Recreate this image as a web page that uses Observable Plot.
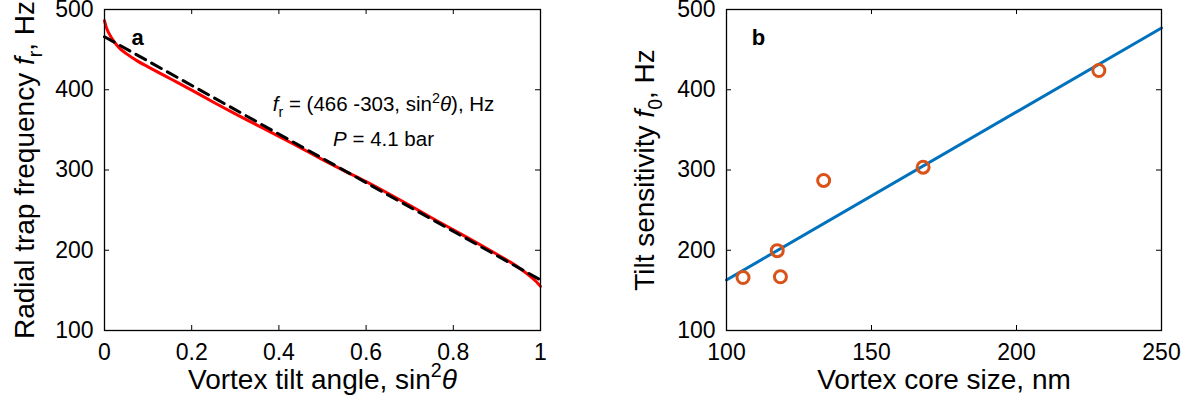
<!DOCTYPE html>
<html><head><meta charset="utf-8">
<script src="https://cdn.jsdelivr.net/npm/d3@7"></script>
<script src="https://cdn.jsdelivr.net/npm/@observablehq/plot@0.6"></script>
<style>
html,body{margin:0;padding:0;background:#fff;}
#wrap{display:flex;width:1191px;height:412px;overflow:hidden;}
#wrap svg{display:block;flex:none;}
</style></head><body><div id="wrap"></div>
<script>
// ---- Panel a data ----
const redX = [0, 0.005, 0.01, 0.02, 0.035, 0.05, 0.075, 0.1, 0.15, 0.2, 0.25, 0.3, 0.35, 0.4, 0.45, 0.5, 0.55, 0.6, 0.65, 0.7, 0.75, 0.8, 0.85, 0.9, 0.93, 0.96, 0.98, 0.99, 1];
const redY = [486, 476.5, 470.5, 461.5, 451.5, 445, 436, 428.5, 414, 399.5, 384.5, 370, 356, 342, 327.5, 313, 299, 285.5, 271, 256, 240.5, 225.5, 210.5, 195, 185.5, 174.5, 166, 161, 155];
const fitAX = [0, 1];
const fitAY = [466, 163];
const aXTicks = [0, 0.2, 0.4, 0.6, 0.8, 1];
const aYTicks = [100, 200, 300, 400, 500];

// ---- Panel b data ----
const coreSize = [105.7, 117.5, 118.6, 133.5, 167.8, 228.4];
const tiltSens = [166, 199.5, 167, 287, 303.5, 424];
const fitBX = [100, 250];
const fitBY = [163, 477];
const bXTicks = [100, 150, 200, 250];
const bYTicks = [100, 200, 300, 400, 500];

const FONT = "'Liberation Sans', Arial, Helvetica, sans-serif";
const TICK = 5;

function frameTicks(xt, yt, pw, ph) {
  return [
    Plot.tickX(xt, {x: d => d, insetTop: ph - TICK, stroke: "black"}),
    Plot.tickX(xt, {x: d => d, insetBottom: ph - TICK, stroke: "black"}),
    Plot.tickY(yt, {y: d => d, insetRight: pw - TICK, stroke: "black"}),
    Plot.tickY(yt, {y: d => d, insetLeft: pw - TICK, stroke: "black"}),
    Plot.frame({stroke: "black", strokeWidth: 1.3})
  ];
}

const H = 412, MT = 9, MB = 82;
const PH = H - MT - MB;
const LABEL = 28;

// Panel a
const aW = 620, aML = 104, aMR = 80;
const tableA = redX.map((x, i) => ({x, y: redY[i]}));
const tableAfit = fitAX.map((x, i) => ({x, y: fitAY[i]}));
const panelA = Plot.plot({
  width: aW, height: H, marginLeft: aML, marginRight: aMR, marginTop: MT, marginBottom: MB,
  style: {fontFamily: FONT, fontSize: "23px", color: "black", background: "white", overflow: "visible"},
  x: {domain: [0, 1]},
  y: {domain: [100, 500]},
  marks: [
    Plot.line(tableA, {x: "x", y: "y", stroke: "#ff0000", strokeWidth: 3, curve: "monotone-x"}),
    Plot.line(tableAfit, {x: "x", y: "y", stroke: "black", strokeWidth: 3, strokeDasharray: "11,7"}),
    ...frameTicks(aXTicks, aYTicks, aW - aML - aMR, PH),
    Plot.axisX({ticks: aXTicks, tickSize: 0, tickPadding: 13, label: null, tickFormat: d => String(d)}),
    Plot.axisY({ticks: aYTicks, tickSize: 0, tickPadding: 11, label: null, tickFormat: d => String(d)}),
    Plot.text(["a"], {x: 0.076, y: 465, fontWeight: "bold", fontSize: 22}),
    Plot.text(["ANN1"], {x: 0.64, y: 381.5, fontSize: 20.5}),
    Plot.text(["ANN2"], {x: 0.64, y: 338, fontSize: 20.5}),
    Plot.text(["XLABA"], {frameAnchor: "bottom", textAnchor: "middle", dy: 58, fontSize: LABEL}),
    Plot.text(["YLABA"], {frameAnchor: "left", textAnchor: "middle", dx: -79, rotate: -90, fontSize: LABEL})
  ]
});

// Panel b
const bW = 571, bML = 106, bMR = 30;
const tableB = coreSize.map((x, i) => ({x, y: tiltSens[i]}));
const tableBfit = fitBX.map((x, i) => ({x, y: fitBY[i]}));
const panelB = Plot.plot({
  width: bW, height: H, marginLeft: bML, marginRight: bMR, marginTop: MT, marginBottom: MB,
  style: {fontFamily: FONT, fontSize: "23px", color: "black", background: "white", overflow: "visible"},
  x: {domain: [100, 250]},
  y: {domain: [100, 500]},
  marks: [
    Plot.line(tableBfit, {x: "x", y: "y", stroke: "#0072BD", strokeWidth: 3}),
    Plot.dot(tableB, {x: "x", y: "y", r: 6, stroke: "#D95319", strokeWidth: 3, fill: "none"}),
    ...frameTicks(bXTicks, bYTicks, bW - bML - bMR, PH),
    Plot.axisX({ticks: bXTicks, tickSize: 0, tickPadding: 13, label: null, tickFormat: d => String(d)}),
    Plot.axisY({ticks: bYTicks, tickSize: 0, tickPadding: 11, label: null, tickFormat: d => String(d)}),
    Plot.text(["b"], {x: 111, y: 464, fontWeight: "bold", fontSize: 22}),
    Plot.text(["XLABB"], {frameAnchor: "bottom", textAnchor: "middle", dy: 58, fontSize: LABEL}),
    Plot.text(["YLABB"], {frameAnchor: "left", textAnchor: "middle", dx: -81, rotate: -90, fontSize: LABEL})
  ]
});

const wrap = document.getElementById("wrap");
wrap.appendChild(panelA);
wrap.appendChild(panelB);

// rich text: parts = [text, kind] kind: "", "i", "sub", "sup"
const NS = "http://www.w3.org/2000/svg";
function rich(svg, key, parts, F) {
  const el = Array.from(svg.querySelectorAll("text")).find(t => t.textContent === key);
  if (!el) return;
  el.textContent = "";
  let shift = 0;
  for (const [t, kind] of parts) {
    const ts = document.createElementNS(NS, "tspan");
    ts.textContent = t;
    let target = 0;
    if (kind.includes("i")) ts.setAttribute("font-style", "italic");
    if (kind.includes("sub")) { ts.setAttribute("font-size", (0.7 * F) + "px"); target = 0.28 * F; }
    if (kind.includes("sup")) { ts.setAttribute("font-size", (0.7 * F) + "px"); target = -0.42 * F; }
    if (target !== shift) { ts.setAttribute("dy", (target - shift) + "px"); shift = target; }
    el.appendChild(ts);
  }
}
rich(panelA, "ANN1", [["f", "i"], ["r", "sub"], [" = (466 -303, sin", ""], ["2", "sup"], ["θ", "i"], ["), Hz", ""]], 20.5);
rich(panelA, "ANN2", [["P", "i"], [" = 4.1 bar", ""]], 20.5);
rich(panelA, "XLABA", [["Vortex tilt angle, sin", ""], ["2", "sup"], ["θ", "i"]], LABEL);
rich(panelA, "YLABA", [["Radial trap frequency ", ""], ["f", "i"], ["r", "sub"], [", Hz", ""]], LABEL);
rich(panelB, "XLABB", [["Vortex core size, nm", ""]], LABEL);
rich(panelB, "YLABB", [["Tilt sensitivity ", ""], ["f", "i"], ["0", "sub"], [", Hz", ""]], LABEL);
</script>
</body></html>
